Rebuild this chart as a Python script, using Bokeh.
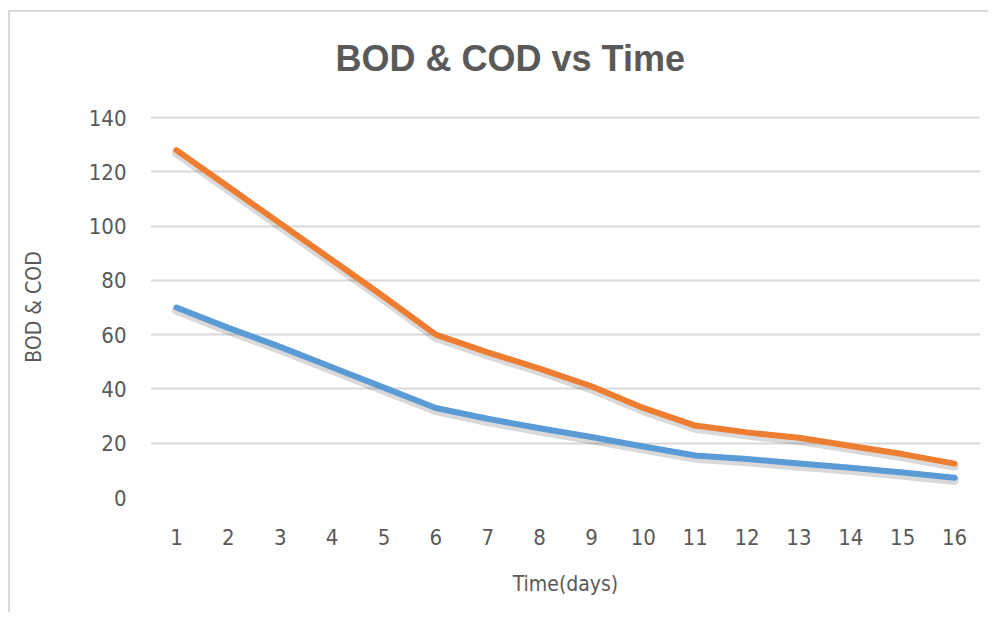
from bokeh.plotting import figure
from bokeh.models import Range1d, FixedTicker, ColumnDataSource, Title
from bokeh.embed import file_html
from bokeh.resources import INLINE

days = list(range(1, 17))
bod = [70, 62.5, 55.5, 48, 40.5, 33, 29, 25.5, 22.3, 18.8, 15.5, 14.2, 12.5, 11, 9.2, 7.3]
cod = [128, 114.5, 101, 87.5, 74, 60, 53.5, 47.5, 41, 33, 26.5, 24, 22, 19, 16, 12.5]
y_ticks = [0, 20, 40, 60, 80, 100, 120, 140]
title_text = "BOD & COD vs Time"

TXT = "#595959"
NARROW = "DejaVu Sans Condensed"

p = figure(width=980, height=602, output_backend="svg", toolbar_location=None,
           x_range=Range1d(0.5, 16.5), y_range=Range1d(0, 140.4),
           min_border_left=140, min_border_right=10, min_border_top=103,
           min_border_bottom=117)
p.styles = {"border-top": "2px solid #d9d9d9", "border-left": "2px solid #d9d9d9",
            "margin-top": "10px", "margin-left": "8px"}
p.outline_line_color = None
p.background_fill_color = "white"
p.border_fill_color = "white"

p.title.text = title_text
p.title.text_font = "Liberation Sans"
p.title.text_font_style = "bold"
p.title.text_font_size = "36px"
p.title.text_color = TXT
p.title.align = "left"
p.title.offset = 185
p.title.vertical_align = "top"
p.title.standoff = 50

# small spacer between the title and the plot area
p.add_layout(Title(text=" ", text_font_size="1px", standoff=8), "above")

p.xaxis.ticker = FixedTicker(ticks=days)
p.yaxis.ticker = FixedTicker(ticks=y_ticks)
for ax in (p.xaxis, p.yaxis):
    ax.axis_line_color = None
    ax.major_tick_line_color = None
    ax.minor_tick_line_color = None
    ax.major_tick_out = 0
    ax.major_tick_in = 0
    ax.major_label_text_font = NARROW
    ax.major_label_text_font_size = "22px"
    ax.major_label_text_color = TXT
    ax.axis_label_text_font = NARROW
    ax.axis_label_text_font_size = "21px"
    ax.axis_label_text_font_style = "normal"
    ax.axis_label_text_color = TXT

p.xaxis.axis_label = "Time(days)"
p.yaxis.axis_label = "BOD & COD"
p.xaxis.major_label_standoff = 31
p.yaxis.major_label_standoff = 24
p.xaxis.axis_label_standoff = 24
p.yaxis.axis_label_standoff = 40

p.xgrid.grid_line_color = None
p.ygrid.grid_line_color = "#d9d9d9"
p.ygrid.grid_line_width = 2

src = ColumnDataSource(dict(day=days, bod=bod, cod=cod,
                            bod_sh=[v - 1.0 for v in bod], cod_sh=[v - 1.0 for v in cod]))

# soft shadows
p.line("day", "bod_sh", source=src, line_color="black", line_alpha=0.15, line_width=9,
       line_cap="round", line_join="round")
p.line("day", "cod_sh", source=src, line_color="black", line_alpha=0.15, line_width=9,
       line_cap="round", line_join="round")

p.line("day", "bod", source=src, line_color="#5B9BD5", line_width=6,
       line_cap="round", line_join="round")
p.line("day", "cod", source=src, line_color="#ED7D31", line_width=6,
       line_cap="round", line_join="round")

open("out.html", "w").write(file_html(p, INLINE))
